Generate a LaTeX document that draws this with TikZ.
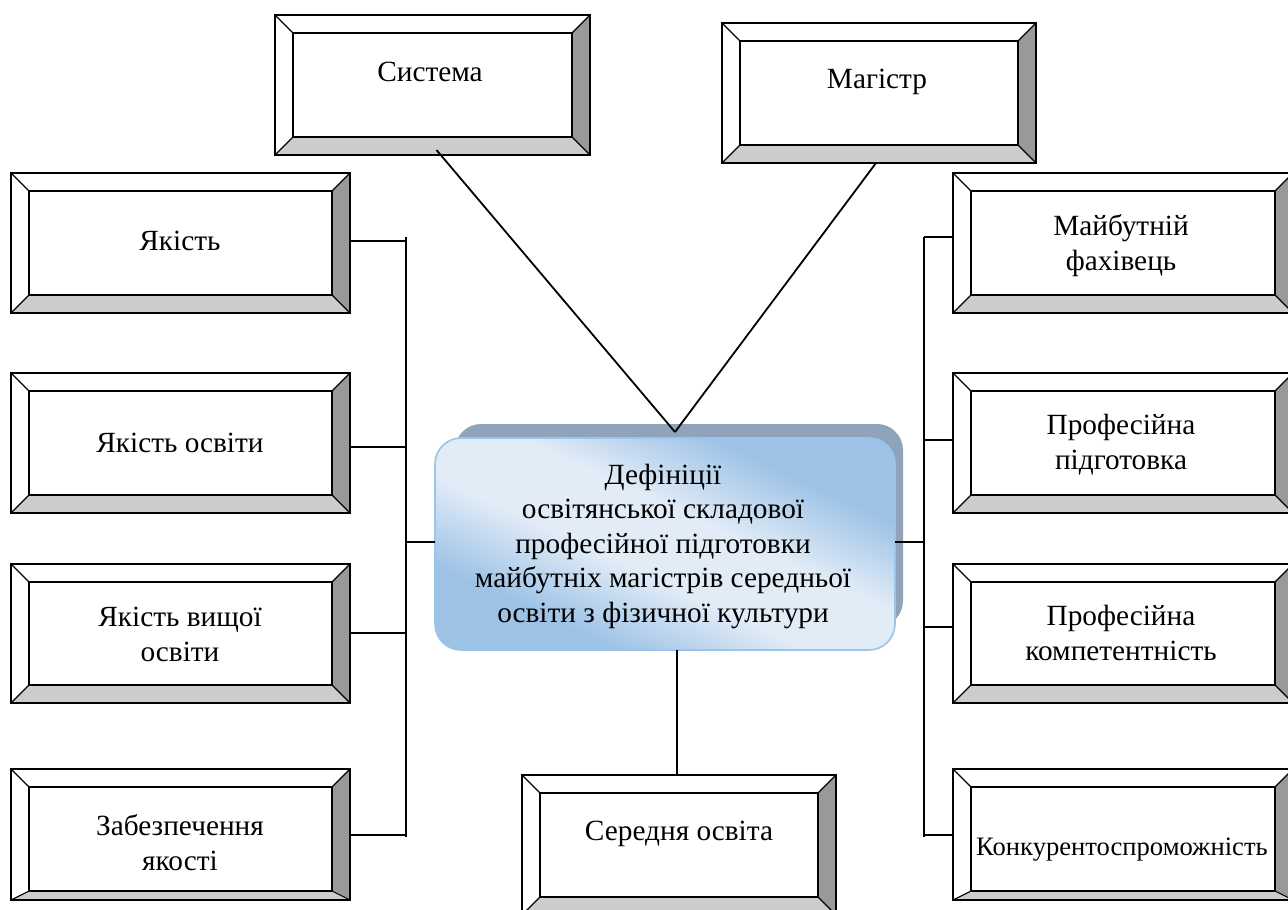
\documentclass[tikz,border=0pt]{standalone}
\usepackage{fontspec}
\setmainfont{Liberation Serif}
\usetikzlibrary{calc}

\definecolor{bevdark}{HTML}{999999}
\definecolor{bevmid}{HTML}{CCCCCC}
\definecolor{cblue}{HTML}{9DC2E6}
\definecolor{clight}{HTML}{E2ECF7}
\definecolor{cborder}{HTML}{9CC3E8}
\definecolor{cshadow}{HTML}{8FA4BA}

\pgfdeclarehorizontalshading{defshade}{100bp}{color(0bp)=(cblue); color(30bp)=(cblue); color(44bp)=(clight); color(56bp)=(clight); color(70bp)=(cblue); color(100bp)=(cblue)}

\tikzset{
  frame/.style={draw=black, line width=1.8pt, inner sep=0pt, outer sep=0pt},
  bevline/.style={draw=black, line width=1.1pt},
  innerline/.style={draw=black, line width=1.6pt},
  lbl/.style={font=\fontsize{29.3}{34.5}\selectfont, align=center, inner sep=0pt, anchor=base},
  conn/.style={draw=black, line width=1.8pt},
}

% bevelled frame: name, left, top, right, bottom, depth of lower bevel
\newcommand\bevelbox[6]{%
  \fill[white] (#2,#3) rectangle (#4,#5);
  \fill[bevdark] (#4,#3) -- (#4,#5) -- ({#4-18},{#5-#6}) -- ({#4-18},{#3+18}) -- cycle;
  \fill[bevmid] (#2,#5) -- (#4,#5) -- ({#4-18},{#5-#6}) -- ({#2+18},{#5-#6}) -- cycle;
  \draw[bevline] (#2,#3) -- ({#2+18},{#3+18}) (#4,#3) -- ({#4-18},{#3+18})
                 (#2,#5) -- ({#2+18},{#5-#6}) (#4,#5) -- ({#4-18},{#5-#6});
  \draw[innerline] ({#2+18},{#3+18}) rectangle ({#4-18},{#5-#6});
  \node[frame, minimum width={#4-#2}, minimum height={#5-#3}] (#1) at ({(#2+#4)/2},{(#3+#5)/2}) {};
}

\begin{document}
\begin{tikzpicture}[x=1pt, y=-1pt]
\useasboundingbox (0,0) rectangle (1288,910);

% upper pair
\bevelbox{sys}{275}{15}{590}{155}{18}
\node[lbl] (sys-t) at (430,81) {Система};
\bevelbox{mag}{722}{23}{1036}{163}{18}
\node[lbl] (mag-t) at (877,88) {Магістр};

% left column (multi-line labels are placed by their last baseline)
\bevelbox{q1}{11}{173}{350}{313}{18}
\node[lbl] (q1-t) at (180,250) {Якість};
\bevelbox{q2}{11}{373}{350}{513}{18}
\node[lbl] (q2-t) at (180,452) {Якість освіти};
\bevelbox{q3}{11}{564}{350}{703}{18}
\node[lbl] (q3-t) at (180,661) {Якість вищої\\освіти};
\bevelbox{q4}{11}{769}{350}{900}{9}
\node[lbl] (q4-t) at (180,870) {Забезпечення\\якості};

% right column
\bevelbox{p1}{953}{173}{1293}{313}{18}
\node[lbl] (p1-t) at (1121,270) {Майбутній\\фахівець};
\bevelbox{p2}{953}{373}{1293}{513}{18}
\node[lbl] (p2-t) at (1121,469) {Професійна\\підготовка};
\bevelbox{p3}{953}{564}{1293}{703}{18}
\node[lbl] (p3-t) at (1121,660) {Професійна\\компетентність};
\bevelbox{p4}{953}{769}{1293}{900}{9}
\node[lbl, font=\fontsize{26.6}{31}\selectfont] (p4-t) at (1122,855) {Конкурентоспроможність};

% bottom centre
\bevelbox{sec}{522}{775}{836}{915}{18}
\node[lbl] (sec-t) at (679,840) {Середня освіта};

% central rounded block with its shadow
\node[fill=cshadow, rounded corners=26pt, inner sep=0pt, minimum width=448, minimum height=203] (shadow) at (679,525.5) {};
\node[shading=defshade, shading angle=65, draw=cborder, line width=1.6pt, rounded corners=26pt,
      inner sep=0pt, outer sep=0pt, minimum width=460, minimum height=212] (centre) at (665,544) {};
\node[lbl] (centre-t) at (663,622) {Дефініції\\освітянської складової\\професійної підготовки\\майбутніх магістрів середньої\\освіти з фізичної культури};

% connectors
\coordinate (apex) at (675,432);
\draw[conn] ([xshift=4pt, yshift=5pt]sys.south) -- (apex);
\draw[conn] ([xshift=-3pt]mag.south) -- (apex);
\draw[conn] ([xshift=-2pt]sec.north) -- ([xshift=-2pt]sec.north |- centre.south);

\coordinate (lbtop) at (406,237);
\coordinate (lbbot) at (406,837);
\draw[conn] (lbtop) -- (lbbot);
\draw[conn] ([yshift=2pt]q1.east) -- ([yshift=2pt]q1.east -| lbtop);
\draw[conn] ([yshift=-4pt]q2.east) -- ([yshift=-4pt]q2.east -| lbtop);
\draw[conn] ([yshift=0.5pt]q3.east) -- ([yshift=0.5pt]q3.east -| lbtop);
\draw[conn] ([yshift=-0.5pt]q4.east) -- ([yshift=-0.5pt]q4.east -| lbtop);
\draw[conn] ([yshift=2pt]centre.west) -- ([yshift=2pt]centre.west -| lbtop);

\coordinate (rbtop) at (924,237);
\coordinate (rbbot) at (924,837);
\draw[conn] (rbtop) -- (rbbot);
\draw[conn] ([yshift=6pt]p1.west) -- ([yshift=6pt]p1.west -| rbtop);
\draw[conn] ([yshift=3pt]p2.west) -- ([yshift=3pt]p2.west -| rbtop);
\draw[conn] ([yshift=6.5pt]p3.west) -- ([yshift=6.5pt]p3.west -| rbtop);
\draw[conn] ([yshift=-0.5pt]p4.west) -- ([yshift=-0.5pt]p4.west -| rbtop);
\draw[conn] ([yshift=2pt]centre.east) -- ([yshift=2pt]centre.east -| rbtop);
\end{tikzpicture}
\end{document}
